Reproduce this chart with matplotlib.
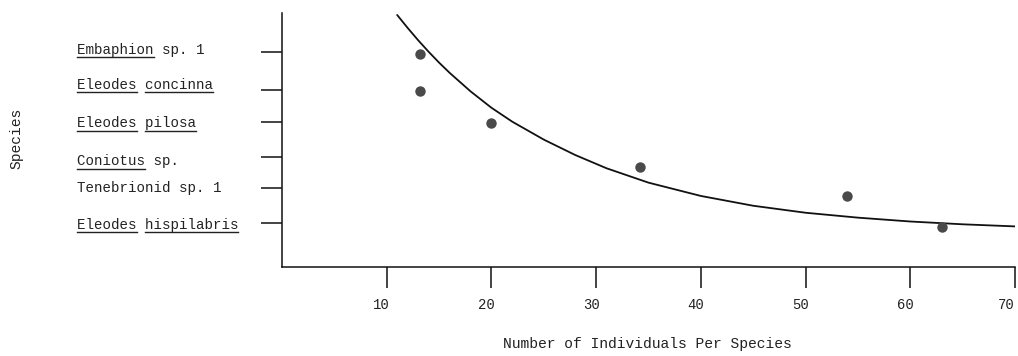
import matplotlib
matplotlib.use("Agg")
import matplotlib.pyplot as plt
import matplotlib.transforms as mtransforms

# ---- data ----
species = ["Embaphion sp. 1", "Eleodes concinna", "Eleodes pilosa",
           "Coniotus sp.", "Tenebrionid sp. 1", "Eleodes hispilabris"]
individuals = [13.2, 13.2, 20.0, 34.2, 54.0, 63.0]
rank_value = [6.09, 5.03, 4.11, 2.87, 2.04, 1.13]
tick_rank = [6.14, 5.06, 4.14, 3.14, 2.26, 1.26]

curve_x = [11, 12, 13, 14, 15, 16, 18, 20, 22, 25, 28, 31, 35, 40, 45, 50, 55, 60, 65, 70]
curve_y = [7.20, 6.83, 6.48, 6.15, 5.84, 5.55, 5.02, 4.55, 4.15, 3.64, 3.20, 2.82,
           2.41, 2.03, 1.75, 1.55, 1.41, 1.30, 1.22, 1.16]

x_ticks = [10, 20, 30, 40, 50, 60, 70]
x_label = "Number of Individuals Per Species"
y_label = "Species"

# underlined word spans (character index ranges) for each label
underlines = [[(0, 9)], [(0, 7), (8, 16)], [(0, 7), (8, 14)],
              [(0, 8)], [], [(0, 7), (8, 19)]]
label_base = [6.086, 5.086, 4.0, 2.914, 2.157, 1.086]

# ---- figure ----
FONT = "Liberation Mono"
W, H, DPI = 1018, 356, 100
fig = plt.figure(figsize=(W / DPI, H / DPI), dpi=DPI)
ax = fig.add_axes([282 / W, (H - 267) / H, (1015 - 282) / W, (267 - 13) / H])

ax.plot(curve_x, curve_y, color="#111111", lw=1.3, solid_capstyle="round")
ax.plot(individuals, rank_value, "o", color="#4a4a4a", markersize=7.5,
        markeredgewidth=0)

ax.set_xlim(0, 70)
ax.set_ylim(0, (267 - 13) / 35)
for s in ("top", "right"):
    ax.spines[s].set_visible(False)
for s in ("left", "bottom"):
    ax.spines[s].set_linewidth(1.1)
    ax.spines[s].set_color("#111111")

ax.set_xticks(x_ticks)
ax.set_xticklabels([str(t) for t in x_ticks], fontfamily=FONT, fontsize=10,
                   color="#222222")
ax.tick_params(axis="x", direction="out", length=15, width=1.1, pad=7,
               color="#111111")
# typed tick labels sit slightly left of their ticks
for i, lab in enumerate(ax.get_xticklabels()):
    dx = -9 if i == len(x_ticks) - 1 else -5
    lab.set_transform(lab.get_transform() +
                      mtransforms.ScaledTranslation(dx / DPI, 0, fig.dpi_scale_trans))

ax.set_yticks(tick_rank)
ax.set_yticklabels([])
ax.tick_params(axis="y", direction="out", length=15, width=1.1,
               color="#111111")

# species labels with underlines
fs = 10.2
charw = fs * 0.6 * DPI / 72.0  # px per monospace character
x0 = 77
blend = mtransforms.blended_transform_factory(fig.transFigure, ax.transData)
for name, yb, spans in zip(species, label_base, underlines):
    ax.text(x0 / W, yb, name, transform=blend, fontfamily=FONT, fontsize=fs,
            ha="left", va="baseline", color="#222222")
    for a, b in spans:
        off = mtransforms.ScaledTranslation(0, -3.5 / DPI, fig.dpi_scale_trans)
        ax.plot([(x0 + a * charw) / W, (x0 + b * charw) / W], [yb, yb],
                transform=blend + off, color="#222222", lw=1.0,
                clip_on=False)

fig.text(647 / W, 1 - 344 / H, x_label, fontfamily=FONT, fontsize=10.5,
         ha="center", va="center", color="#222222")
fig.text(16 / W, 1 - 138 / H, y_label, fontfamily=FONT, fontsize=10.5,
         rotation=90, ha="center", va="center", color="#222222")

fig.savefig("out.png", dpi=DPI, facecolor="white")
